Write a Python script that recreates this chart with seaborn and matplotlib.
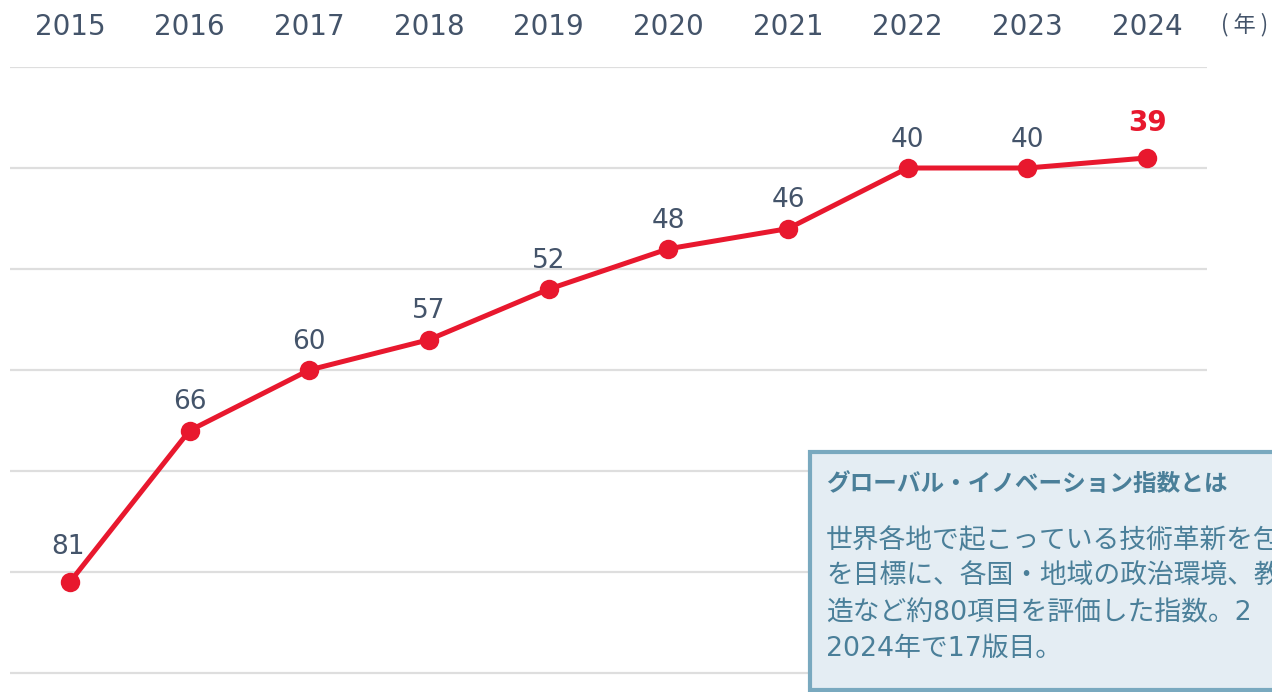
import matplotlib
matplotlib.use("Agg")
import matplotlib.pyplot as plt
from matplotlib.patches import Rectangle
import pandas as pd
import seaborn as sns

years = [2015, 2016, 2017, 2018, 2019, 2020, 2021, 2022, 2023, 2024]
ranks = [81, 66, 60, 57, 52, 48, 46, 40, 40, 39]
grid_ranks = [30, 40, 50, 60, 70, 80, 90]

box_title = "グローバル・イノベーション指数とは"
box_lines = [
    "世界各地で起こっている技術革新を包",
    "を目標に、各国・地域の政治環境、教",
    "造など約80項目を評価した指数。2",
    "2024年で17版目。",
]

RED = "#e8182e"
TEXT = "#44546a"
BOX_FILL = "#e4edf3"
BOX_EDGE = "#79a9bf"
BOX_TEXT = "#4a7f99"
NUM_FONT = ["DejaVu Sans"]
JP_FONT = ["DejaVu Sans", "Noto Sans CJK JP"]

sns.set_theme(style="white")
plt.rcParams["font.family"] = JP_FONT

df = pd.DataFrame({"year": years, "rank": ranks})

W, H = 1272, 692
fig = plt.figure(figsize=(W / 100, H / 100), dpi=100)
ax = fig.add_axes([10 / W, 0, 1197 / W, 625 / H])

sns.lineplot(data=df, x="year", y="rank", ax=ax, color=RED, linewidth=3.6,
             marker="o", markersize=14, markeredgewidth=0, zorder=3)

ax.set_xlim(2014.5, 2024.5)
ax.set_ylim(30 + 625 / 10.1, 30)
ax.set_yticks(grid_ranks)
ax.set_yticklabels([])
ax.tick_params(axis="y", length=0)
ax.grid(axis="y", color="#dedede", linewidth=1.6)
ax.set_axisbelow(True)
for s in ax.spines.values():
    s.set_visible(False)

ax.xaxis.tick_top()
ax.set_xticks(years)
ax.set_xticklabels([str(y) for y in years], fontsize=20, color=TEXT,
                   family=NUM_FONT)
ax.tick_params(axis="x", length=0, pad=19)
ax.set_xlabel("")
ax.set_ylabel("")

# value labels above points; latest year highlighted, first one lifted off the line
for i, (x, r) in enumerate(zip(years, ranks)):
    last = i == len(years) - 1
    dy = 15 if last else (16 if i == 0 else 11)
    ax.annotate(str(r), (x, r), xytext=(-1 if i == 0 else 0, dy),
                textcoords="offset points", ha="center", va="bottom",
                fontsize=20 if last else 19,
                fontweight="bold" if last else "normal",
                color=RED if last else TEXT, family=NUM_FONT)

fig.text(1221 / W, 1 - 25 / H, "( 年 )", ha="left", va="center",
         fontsize=16, color=TEXT, family=["Noto Sans CJK JP"])

# explanation box, runs off the right edge
box = Rectangle((810 / W, 2 / H), 600 / W, (690 - 452) / H,
                transform=fig.transFigure, facecolor=BOX_FILL,
                edgecolor=BOX_EDGE, linewidth=3, zorder=5)
fig.patches.append(box)

fig.text(826 / W, 1 - 484 / H, box_title, ha="left", va="center",
         fontsize=17, fontweight="bold", color=BOX_TEXT,
         family=["Noto Sans CJK JP"], zorder=6)
for j, line in enumerate(box_lines):
    fig.text(826 / W, 1 - (541 + 36 * j) / H, line, ha="left", va="center",
             fontsize=19.3, color=BOX_TEXT, family=JP_FONT, zorder=6)

fig.savefig("out.png", dpi=100)
